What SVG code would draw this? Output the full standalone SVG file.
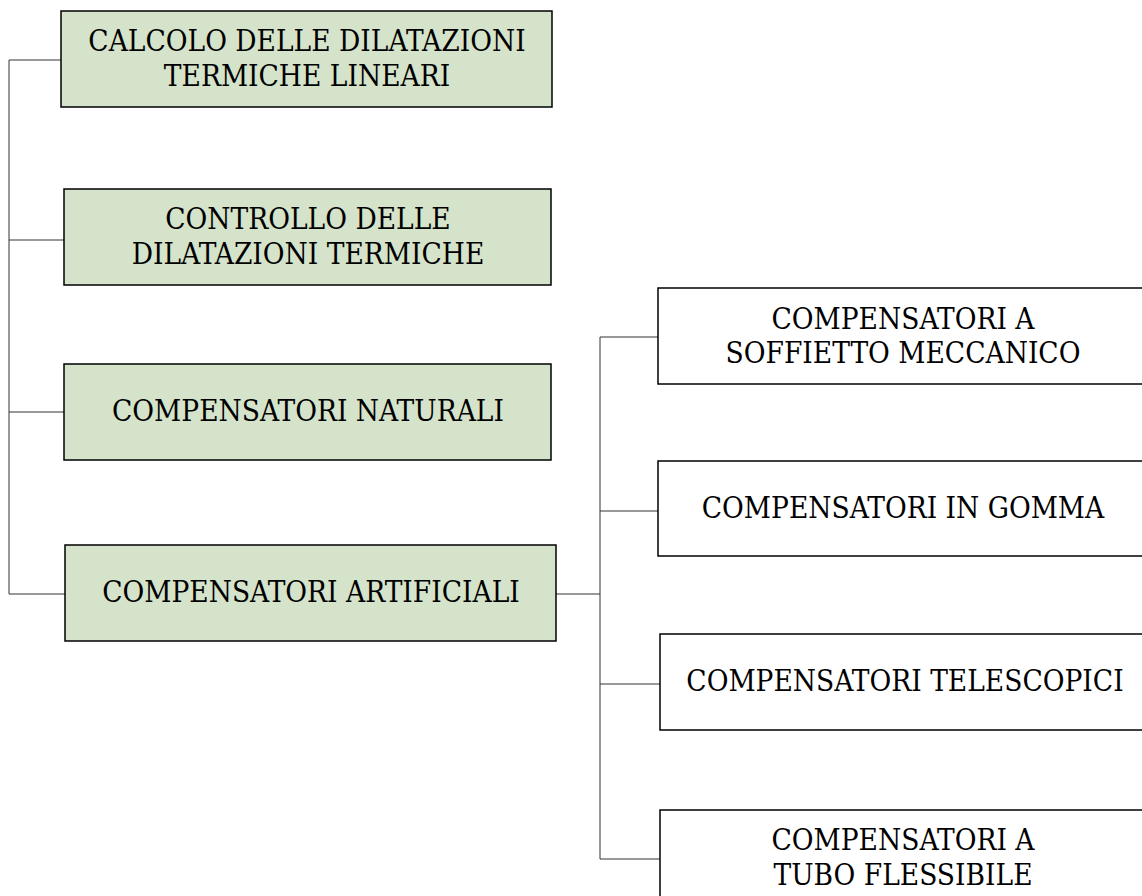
<svg xmlns="http://www.w3.org/2000/svg" width="1142" height="896" viewBox="0 0 1142 896">
<style>
.box{stroke:#000;stroke-width:1.5}
.g{fill:#d4e3c9}
.w{fill:#fff}
.t{font-family:"DejaVu Serif","Liberation Serif",serif;font-stretch:condensed;font-size:29.5px;fill:#000;text-anchor:middle}
.c{fill:none;stroke:#333;stroke-width:1}
</style>
<rect width="1142" height="896" fill="#fff"/>
<g id="connectors">
<path class="c" d="M61 60H9V594H65"/>
<path class="c" d="M9 240H64"/>
<path class="c" d="M9 412H64"/>
<path class="c" d="M556 594H600"/>
<path class="c" d="M658 337H600V859H660"/>
<path class="c" d="M600 511H658"/>
<path class="c" d="M600 684H660"/>
</g>
<g id="n1"><rect class="box g" x="61" y="11" width="491" height="96"/><text class="t" x="307" y="51">CALCOLO DELLE DILATAZIONI</text><text class="t" x="307" y="85.5">TERMICHE LINEARI</text></g>
<g id="n2"><rect class="box g" x="64" y="189" width="487" height="96"/><text class="t" x="308" y="229">CONTROLLO DELLE</text><text class="t" x="308" y="263.5">DILATAZIONI TERMICHE</text></g>
<g id="n3"><rect class="box g" x="64" y="364" width="487" height="96"/><text class="t" x="308" y="420.5">COMPENSATORI NATURALI</text></g>
<g id="n4"><rect class="box g" x="65" y="545" width="491" height="96"/><text class="t" x="311" y="601.5">COMPENSATORI ARTIFICIALI</text></g>
<g id="n5"><rect class="box w" x="658" y="288" width="495" height="96"/><text class="t" x="903" y="328.5">COMPENSATORI A</text><text class="t" x="903" y="363">SOFFIETTO MECCANICO</text></g>
<g id="n6"><rect class="box w" x="658" y="461" width="495" height="95"/><text class="t" x="903" y="517.5">COMPENSATORI IN GOMMA</text></g>
<g id="n7"><rect class="box w" x="660" y="634" width="495" height="96"/><text class="t" x="905" y="691">COMPENSATORI TELESCOPICI</text></g>
<g id="n8"><rect class="box w" x="660" y="810" width="495" height="96"/><text class="t" x="903" y="850">COMPENSATORI A</text><text class="t" x="903" y="884.5">TUBO FLESSIBILE</text></g>
</svg>
